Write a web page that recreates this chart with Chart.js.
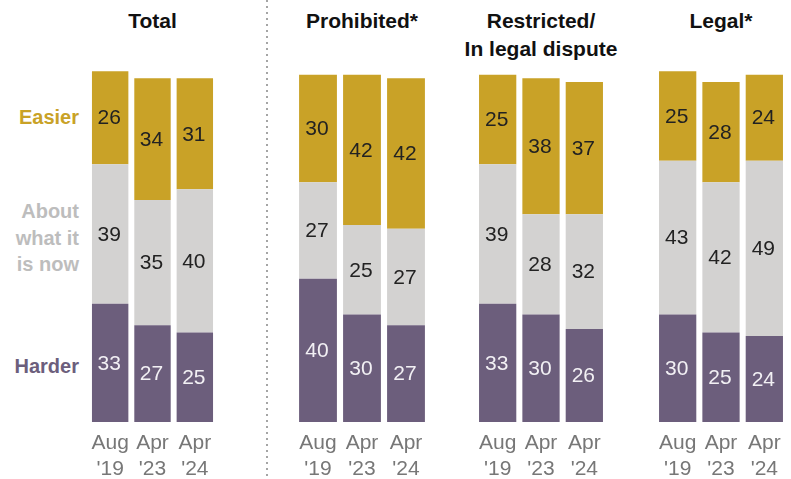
<!DOCTYPE html>
<html>
<head>
<meta charset="utf-8">
<script src="https://cdn.jsdelivr.net/npm/chart.js@4/dist/chart.umd.min.js"></script>
<style>
  body { margin: 0; width: 791px; height: 479px; position: relative; background: #fff; overflow: hidden;
         font-family: "Liberation Sans", Arial, sans-serif; }
  .panel { position: absolute; top: 64px; }
  .title { position: absolute; top: 7px; text-align: center; font-weight: bold; font-size: 21px;
           line-height: 28px; color: #111; white-space: nowrap; }
  .row { position: absolute; right: 712px; text-align: right; font-weight: bold; font-size: 20px;
         line-height: 26.5px; white-space: nowrap; }
  .sep { position: absolute; left: 266px; top: 0; width: 2px; height: 479px;
         background: repeating-linear-gradient(to bottom, #a5a5a5 0 2px, transparent 2px 6px); }
</style>
</head>
<body>
<div class="sep"></div>
<div class="row" style="top:104px;color:#c9a227">Easier</div>
<div class="row" style="top:198px;color:#bdbdbd">About<br>what it<br>is now</div>
<div class="row" style="top:353px;color:#6c5e7c">Harder</div>

<script>
// data
const periods = [["Aug", "'19"], ["Apr", "'23"], ["Apr", "'24"]];
const panelTitles = ["Total", "Prohibited*", "Restricted/<br>In legal dispute", "Legal*"];
const easier = [[26, 34, 31], [30, 42, 42], [25, 38, 37], [25, 28, 24]];
const aboutSame = [[39, 35, 40], [27, 25, 27], [39, 28, 32], [43, 42, 49]];
const harder = [[33, 27, 25], [40, 30, 27], [33, 30, 26], [30, 25, 24]];

// layout of each panel (left edge, width of plot)
const panelLeft = [89, 296, 476, 656];
const panelWidth = [127, 132, 130, 130];

const GOLD = "#c9a227", GRAY = "#d3d2d1", PURPLE = "#6c5e7c";

const valueLabels = {
  id: "valueLabels",
  afterDatasetsDraw(chart) {
    const ctx = chart.ctx;
    ctx.save();
    ctx.font = '21px "Liberation Sans", Arial, sans-serif';
    ctx.textAlign = "center";
    ctx.textBaseline = "middle";
    chart.data.datasets.forEach((ds, i) => {
      chart.getDatasetMeta(i).data.forEach((bar, j) => {
        const p = bar.getProps(["x", "y", "base"], true);
        ctx.fillStyle = ds.labelColor;
        ctx.fillText(ds.data[j], p.x - 1, (p.y + p.base) / 2 + 1);
      });
    });
    ctx.restore();
  }
};

panelTitles.forEach((t, k) => {
  const title = document.createElement("div");
  title.className = "title";
  title.style.left = (panelLeft[k] - 20) + "px";
  title.style.width = (panelWidth[k] + 40) + "px";
  title.innerHTML = t;
  document.body.appendChild(title);

  const wrap = document.createElement("div");
  wrap.className = "panel";
  wrap.style.left = panelLeft[k] + "px";
  const canvas = document.createElement("canvas");
  canvas.width = panelWidth[k];
  canvas.height = 415;
  wrap.appendChild(canvas);
  document.body.appendChild(wrap);

  new Chart(canvas.getContext("2d"), {
    type: "bar",
    data: {
      labels: periods,
      datasets: [
        { label: "Harder", data: harder[k], backgroundColor: PURPLE, labelColor: "#f2f0f4" },
        { label: "About what it is now", data: aboutSame[k], backgroundColor: GRAY, labelColor: "#222" },
        { label: "Easier", data: easier[k], backgroundColor: GOLD, labelColor: "#222" }
      ]
    },
    options: {
      responsive: false,
      animation: false,
      layout: { padding: 0 },
      datasets: { bar: { barPercentage: 0.86, categoryPercentage: 1 } },
      plugins: { legend: { display: false }, tooltip: { enabled: false } },
      scales: {
        x: {
          stacked: true,
          grid: { display: false },
          border: { display: false },
          ticks: {
            color: "#777",
            font: { size: 21, family: '"Liberation Sans", Arial, sans-serif', lineHeight: 1.25 },
            padding: 0,
            maxRotation: 0,
            autoSkip: false
          },
          afterFit: (scale) => { scale.height = 57; }
        },
        y: { stacked: true, display: false, min: 0, max: 100 }
      }
    },
    plugins: [valueLabels]
  });
});
</script>
</body>
</html>
